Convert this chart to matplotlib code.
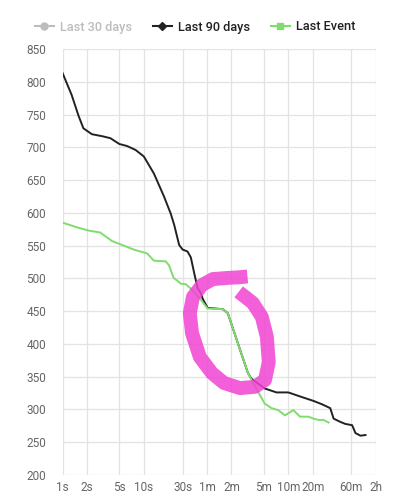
import matplotlib
matplotlib.use('Agg')
import matplotlib.pyplot as plt
from matplotlib.lines import Line2D

plt.rcParams['font.family'] = ['Roboto', 'DejaVu Sans']

# Last 90 days (seconds, value)
days90_sec = [1, 1.29, 1.56, 1.8, 2.29, 3.05, 3.86, 5, 6.2, 7.9, 10, 13.3, 17.7,
              21.4, 23.6, 27.2, 30, 34.5, 37.9, 41.7, 46, 50.5, 53, 61, 94, 108,
              131, 158, 192, 211, 308, 430, 601, 880, 1230, 1556, 1974, 2174,
              2630, 3018, 3670, 4036, 4645, 5370]
days90_val = [813, 780, 749, 729, 720, 717, 714, 705, 702, 696, 686, 660, 625,
              599, 582, 551, 544, 541, 532, 508, 485, 477, 469, 455, 453, 447,
              416, 386, 355, 347, 332, 326, 326, 319, 313, 308, 302, 286,
              281, 278, 276, 264, 260, 261]

# Last Event (seconds, value)
event_sec = [1, 1.49, 2.08, 2.9, 4.05, 5.14, 7.5, 11, 13.3, 18.6, 20.4, 23.2,
             28.5, 32.9, 39.8, 50.5, 61, 94, 108, 131, 158, 192, 255, 308, 373,
             452, 546, 694, 837, 1064, 1230, 1416, 1633, 1885]
event_val = [585, 578, 573, 570, 557, 552, 544, 538, 527, 526, 520, 501,
             492, 491, 482, 467, 454, 453, 447, 416, 386, 355, 327, 309, 302,
             299, 291, 299, 289, 289, 286, 284, 284, 280]

xtick_sec = [1, 2, 5, 10, 30, 60, 120, 300, 600, 1200, 3600, 7200]
xtick_labels = ['1s', '2s', '5s', '10s', '30s', '1m', '2m', '5m', '10m', '20m', '60m', '2h']
yticks = list(range(200, 851, 50))

# hand-drawn highlight loop, axes fractions
loop_x = [0.590, 0.562, 0.534, 0.480, 0.445, 0.416, 0.406, 0.413, 0.438, 0.477,
          0.515, 0.566, 0.614, 0.646, 0.658, 0.652, 0.636, 0.607, 0.562]
loop_y = [0.466, 0.464, 0.463, 0.460, 0.446, 0.418, 0.380, 0.333, 0.277, 0.239,
          0.216, 0.204, 0.207, 0.223, 0.265, 0.324, 0.371, 0.404, 0.430]

black = '#222222'
green = '#80dc6e'
grey = '#bdbdbd'
grid_c = '#e3e3e3'

fig = plt.figure(figsize=(3.94, 5.0), dpi=100)
ax = fig.add_axes([0.159, 0.05, 0.795, 0.852])

ax.plot(days90_sec, days90_val, color=black, lw=1.4, zorder=3)
ax.plot(event_sec, event_val, color=green, lw=1.4, zorder=4)

ax.set_xscale('log')
ax.set_xlim(1, 7200)
ax.set_ylim(200, 850)
ax.set_xticks(xtick_sec)
ax.set_xticklabels(xtick_labels)
ax.minorticks_off()
ax.set_yticks(yticks)
ax.grid(True, color=grid_c, lw=0.9)
ax.set_axisbelow(True)
for s in ax.spines.values():
    s.set_visible(False)
ax.tick_params(axis='both', length=0, labelsize=8.5, labelcolor='#666666')
ax.tick_params(axis='x', pad=4)
ax.tick_params(axis='y', pad=12)

ax.plot(loop_x, loop_y, transform=ax.transAxes, color='#f043d3', alpha=0.85,
        lw=10, solid_joinstyle='round', solid_capstyle='butt', zorder=6,
        clip_on=False)

handles = [
    Line2D([], [], color=grey, marker='o', ms=5, lw=1.5),
    Line2D([], [], color=black, marker='D', ms=4, lw=1.5),
    Line2D([], [], color=green, marker='s', ms=5, lw=1.5),
]
leg = fig.legend(handles, ['Last 30 days', 'Last 90 days', 'Last Event'],
                 loc='center', bbox_to_anchor=(0.495, 0.946), ncol=3,
                 frameon=False, handlelength=1.5, handletextpad=0.5,
                 columnspacing=1.6, prop={'size': 9.2, 'weight': 'medium'})
for t, c in zip(leg.get_texts(), [grey, black, black]):
    t.set_color(c)

fig.savefig('out.png', dpi=100)
